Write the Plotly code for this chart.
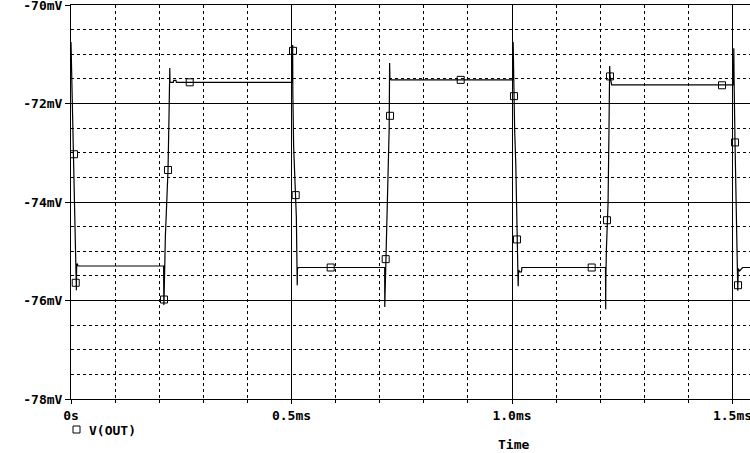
import plotly.graph_objects as go

# waveform V(OUT): time in ms, voltage in mV
time_ms = [
    0.0000, 0.0020, 0.0035, 0.0060, 0.0095, 0.0122, 0.0128, 0.0140, 0.0160,
    0.2100, 0.2105, 0.2110, 0.2140, 0.2200, 0.2225, 0.2240, 0.2245, 0.2320, 0.2330, 0.2380, 0.2390,
    0.5020, 0.5026, 0.5030, 0.5048, 0.5070, 0.5095, 0.5110, 0.5130, 0.5135, 0.5160,
    0.7113, 0.7115, 0.7130, 0.7166, 0.7188, 0.7215, 0.7225, 0.7232, 0.7260,
    1.0020, 1.0026, 1.0035, 1.0060, 1.0085, 1.0113, 1.0140, 1.0148, 1.0175, 1.0215, 1.0225,
    1.2120, 1.2125, 1.2128, 1.2140, 1.2178, 1.2200, 1.2215, 1.2225, 1.2245, 1.2260,
    1.5020, 1.5030, 1.5035, 1.5057, 1.5075, 1.5105, 1.5120, 1.5130, 1.5160, 1.5230, 1.5450,
]
v_out_mv = [
    -70.75, -71.50, -72.54, -73.55, -74.57, -75.79, -75.30, -75.25, -75.30,
    -75.30, -76.09, -75.98, -74.70, -73.35, -72.13, -71.28, -71.57, -71.57, -71.53, -71.53, -71.57,
    -71.57, -70.81, -71.75, -72.87, -73.49, -73.86, -74.30, -75.69, -75.35, -75.33,
    -75.33, -76.13, -75.60, -74.57, -73.35, -72.50, -71.18, -71.50, -71.52,
    -71.52, -70.75, -71.35, -72.54, -73.20, -74.76, -75.71, -75.38, -75.42, -75.42, -75.33,
    -75.33, -76.18, -75.60, -74.98, -74.03, -72.47, -71.24, -71.45, -71.55, -71.62,
    -71.62, -70.88, -71.45, -72.79, -73.96, -75.31, -75.80, -75.35, -75.40, -75.33, -75.33,
]

# marker points on the trace
marker_t = [0.0068, 0.0107, 0.2109, 0.2200, 0.2692, 0.5034, 0.5095, 0.5889, 0.7136,
            0.7234, 0.8837, 1.0045, 1.0113, 1.1807, 1.2154, 1.2222, 1.4762, 1.5057, 1.5125]
marker_v = [-73.03, -75.64, -75.98, -73.35, -71.57, -70.93, -73.86, -75.33, -75.16,
            -72.25, -71.52, -71.85, -74.76, -75.33, -74.37, -71.45, -71.63, -72.79, -75.69]

x_tickvals = [0, 0.5, 1.0, 1.5]
x_ticktext = ["0s", "0.5ms", "1.0ms", "1.5ms"]
y_tickvals = [-78, -76, -74, -72, -70]
y_ticktext = ["-78mV", "-76mV", "-74mV", "-72mV", "-70mV"]

FONT = "DejaVu Sans Mono"

fig = go.Figure()
fig.add_trace(go.Scatter(x=time_ms, y=v_out_mv, mode="lines",
                         line=dict(color="black", width=1.2), showlegend=False,
                         hoverinfo="skip"))
fig.add_trace(go.Scatter(x=marker_t, y=marker_v, mode="markers",
                         marker=dict(symbol="square-open", size=7, color="black",
                                     line=dict(width=1, color="black")),
                         showlegend=False, hoverinfo="skip"))

fig.update_layout(
    width=750, height=453,
    margin=dict(l=71, r=0, t=5, b=54, autoexpand=False),
    paper_bgcolor="white", plot_bgcolor="white",
    font=dict(family=FONT, size=13, color="black", weight="bold"),
    xaxis=dict(
        range=[0, 679 / 441], showline=True, linecolor="black", linewidth=1,
        mirror=True, zeroline=False, automargin=False, ticklabeloverflow="allow",
        tickvals=x_tickvals, ticktext=x_ticktext,
        ticks="outside", ticklen=4, tickcolor="black",
        showgrid=True, gridcolor="black", gridwidth=1,
        minor=dict(dtick=0.1, tick0=0, showgrid=True, gridcolor="black",
                   griddash="3px,3px", gridwidth=1, ticks="outside",
                   ticklen=3, tickcolor="black"),
        tickfont=dict(family=FONT, size=13, weight="bold"),
    ),
    yaxis=dict(
        range=[-78, -70], showline=True, linecolor="black", linewidth=1,
        zeroline=False, automargin=False, ticklabeloverflow="allow",
        tickvals=y_tickvals, ticktext=y_ticktext,
        ticks="outside", ticklen=5, tickcolor="black",
        showgrid=True, gridcolor="black", gridwidth=1,
        minor=dict(dtick=0.5, tick0=-78, showgrid=True, gridcolor="black",
                   griddash="3px,3px", gridwidth=1),
        tickfont=dict(family=FONT, size=13, weight="bold"),
    ),
    shapes=[
        dict(type="rect", xref="paper", yref="paper",
             x0=2 / 679, x1=9 / 679, y0=-34 / 394, y1=-27 / 394,
             line=dict(color="black", width=1)),
    ],
    annotations=[
        dict(text="V(OUT)", xref="paper", yref="paper", x=16 / 679, y=-31 / 394,
             xanchor="left", yanchor="middle", showarrow=False,
             font=dict(family=FONT, size=13, weight="bold")),
        dict(text="Time", xref="paper", yref="paper", x=(513 - 71) / 679, y=-45 / 394,
             xanchor="center", yanchor="middle", showarrow=False,
             font=dict(family=FONT, size=13, weight="bold")),
    ],
)

fig.write_html("out.html", config={"displayModeBar": False},
               post_script="document.body.style.margin='0';")
